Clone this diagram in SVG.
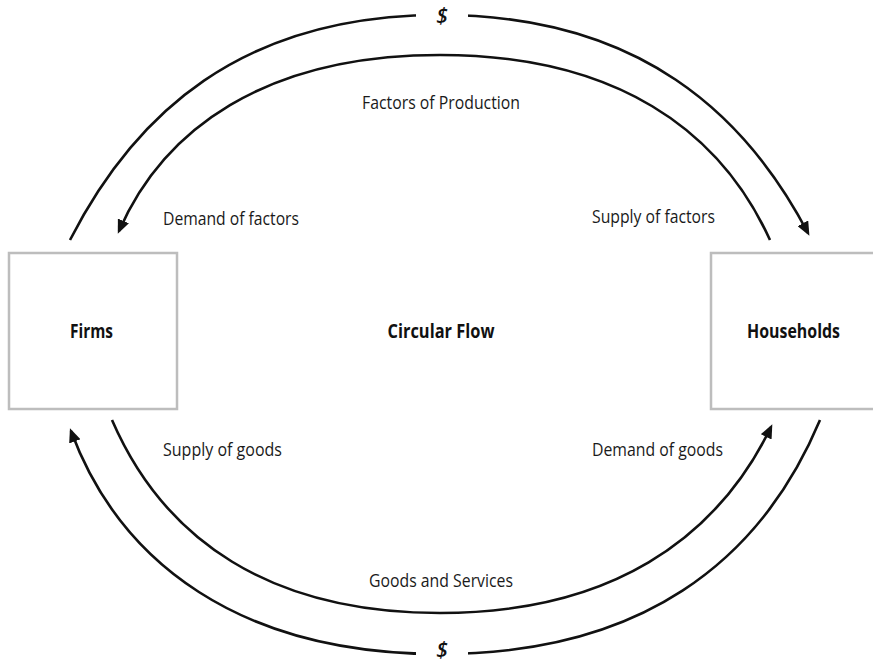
<svg xmlns="http://www.w3.org/2000/svg" width="873" height="664" viewBox="0 0 873 664">
  <defs>
    <marker id="arrow" viewBox="0 0 14 12" refX="11" refY="6" markerWidth="14" markerHeight="12" markerUnits="userSpaceOnUse" orient="auto">
      <path d="M0,0 L14,6 L0,12 Z" fill="#111"/>
    </marker>
    <style>
      .box { fill: #fff; stroke: #bdbdbd; stroke-width: 2.5; }
      .flow { fill: none; stroke: #111; stroke-width: 2.6; }
      .lbl { font-family: "Open Sans", "Liberation Sans", sans-serif; font-size: 19px; fill: #1a1a1a; }
      .bold { font-family: "Open Sans", "Liberation Sans", sans-serif; font-size: 19px; font-weight: 700; fill: #111; }
      .money { font-family: "Open Sans", "Liberation Sans", sans-serif; font-size: 21px; font-weight: 600; font-style: italic; fill: #111; }
    </style>
  </defs>

  <rect width="873" height="664" fill="#fff"/>

  <!-- money and goods flows -->
  <g id="connectors">
    <!-- outer top: money from firms to households -->
    <path class="flow" marker-end="url(#arrow)" d="M70,240 C134,115 240,15 440,15 C640,15 746,115 808,233"/>
    <!-- inner top: factors from households to firms -->
    <path class="flow" marker-end="url(#arrow)" d="M770,240 C720,130 616,55 440,55 C264,55 163,130 119,231"/>
    <!-- outer bottom: money from households to firms -->
    <path class="flow" marker-end="url(#arrow)" d="M820,420 C760,563 640,654 440,654 C240,654 120,563 71,431"/>
    <!-- inner bottom: goods from firms to households -->
    <path class="flow" marker-end="url(#arrow)" d="M112,420 C164,540 270,613 440,613 C610,613 716,540 771,427"/>
  </g>

  <!-- currency markers over the outer flows -->
  <g id="money-top">
    <rect x="416" y="0" width="52" height="33" fill="#fff"/>
    <text class="money" x="442" y="23" text-anchor="middle">$</text>
  </g>
  <g id="money-bottom">
    <rect x="416" y="636" width="52" height="28" fill="#fff"/>
    <text class="money" x="442" y="657" text-anchor="middle">$</text>
  </g>

  <g id="firms">
    <rect class="box" x="9" y="253" width="168" height="156"/>
    <text class="bold" x="91.5" y="338" text-anchor="middle" textLength="43" lengthAdjust="spacingAndGlyphs">Firms</text>
  </g>

  <g id="households">
    <rect class="box" x="711" y="253" width="170" height="156"/>
    <text class="bold" x="793.5" y="338" text-anchor="middle" textLength="93" lengthAdjust="spacingAndGlyphs">Households</text>
  </g>

  <g id="circular-flow">
    <text class="bold" x="441" y="338" text-anchor="middle" textLength="107" lengthAdjust="spacingAndGlyphs">Circular Flow</text>
  </g>

  <g id="labels">
    <text class="lbl" x="441" y="109" text-anchor="middle" textLength="158" lengthAdjust="spacingAndGlyphs">Factors of Production</text>
    <text class="lbl" x="163" y="225" textLength="136" lengthAdjust="spacingAndGlyphs">Demand of factors</text>
    <text class="lbl" x="592" y="223" textLength="123" lengthAdjust="spacingAndGlyphs">Supply of factors</text>
    <text class="lbl" x="163" y="456" textLength="119" lengthAdjust="spacingAndGlyphs">Supply of goods</text>
    <text class="lbl" x="592" y="456" textLength="131" lengthAdjust="spacingAndGlyphs">Demand of goods</text>
    <text class="lbl" x="441" y="587" text-anchor="middle" textLength="144" lengthAdjust="spacingAndGlyphs">Goods and Services</text>
  </g>
</svg>
